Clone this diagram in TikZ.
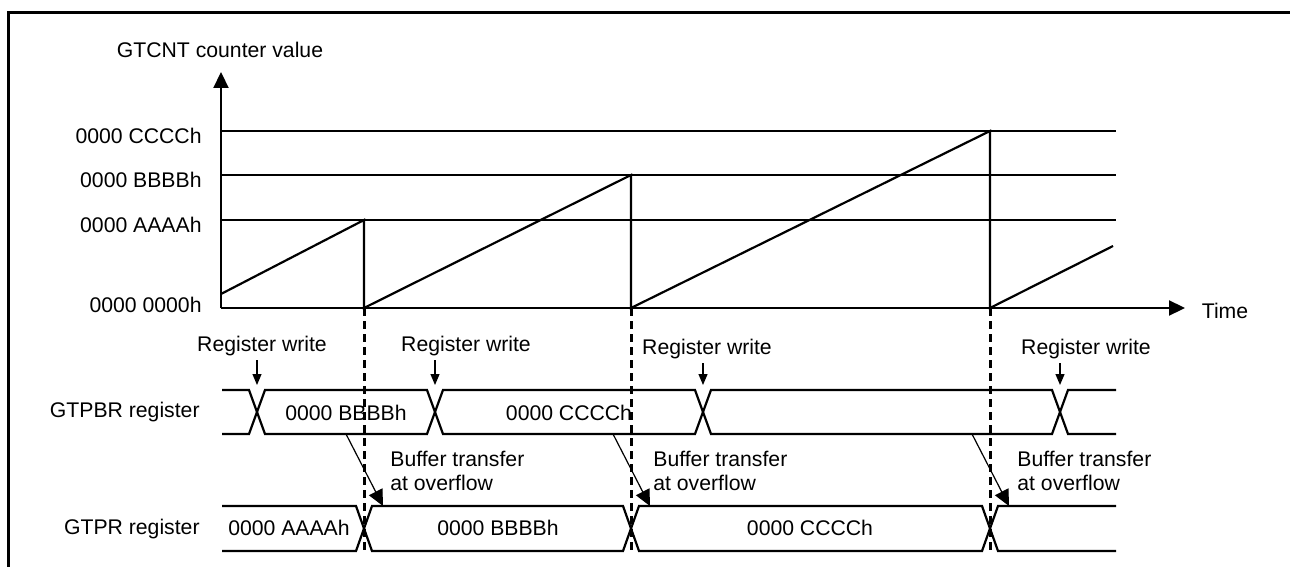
\documentclass[tikz,border=0pt]{standalone}
\usepackage{fontspec}
\setmainfont{Liberation Sans}
\usetikzlibrary{arrows.meta, positioning}

\begin{document}
\begin{tikzpicture}[
    x=0.5pt, y=-0.5pt,
    every node/.style={font=\fontsize{10.6}{12}\selectfont, inner sep=0pt},
    wave/.style={line width=1.1pt, line join=miter},
    axis/.style={line width=1.1pt, -{Triangle[length=8pt, width=7.5pt]}},
    ovl/.style={line width=1.5pt, dash pattern=on 4pt off 2.5pt},
    warr/.style={line width=0.6pt, -{Triangle[length=5.5pt, width=4.5pt]}},
    xfer/.style={line width=0.6pt, -{Triangle[length=8pt, width=7.5pt]}}
]
\useasboundingbox (0,0) rectangle (1290,567);

% Frame — only left and top edges show
\draw[line width=1.5pt] (8.5,567) -- (8.5,12.5) -- (1290,12.5);

% Counter axes
\coordinate (o) at (221,308);
\coordinate (ytop) at (221,72);
\coordinate (xend) at (1185,308);
\draw[axis] (o) -- (ytop);
\draw[axis] (o) -- (xend);
\node (ylbl) at (220,50) {GTCNT counter value};
\node (tlbl) at (1225,311) {Time};

% Compare levels
\foreach \yy/\lev in {131/C, 175/B, 220/A} {
  \draw[wave] (221,\yy) -- (1116,\yy);
  \node[anchor=east] (lv\lev) at (202,\yy+5) {0000 \lev\lev\lev\lev h};
}
\node[anchor=east] (lvZ) at (202,305) {0000 0000h};

% Sawtooth, overflow at each level
\coordinate (ov1) at (364,308);
\coordinate (ov2) at (631,308);
\coordinate (ov3) at (990,308);
\draw[wave] (221,294) -- (364,220) -- (ov1) -- (631,175) -- (ov2)
    -- (990,131) -- (ov3) -- (1113,246);

% Overflow markers down to GTPR
\coordinate (prbot) at (0,551);
\foreach \i in {1,2,3}
  \draw[ovl] (ov\i) -- (ov\i |- prbot);

% GTPBR row
\node[anchor=east] (pbr) at (200,412) {GTPBR register};
\draw[wave] (222,390) -- (249,390) -- (265,434) -- (427,434) -- (443,390) -- (695,390)
    -- (711,434) -- (1052,434) -- (1068,390) -- (1116,390);
\draw[wave] (222,434) -- (249,434) -- (265,390) -- (427,390) -- (443,434) -- (695,434)
    -- (711,390) -- (1052,390) -- (1068,434) -- (1116,434);
\node (pbrB) at (346,413) {0000 BBBBh};
\node (pbrC) at (569,413) {0000 CCCCh};

% GTPR row
\node[anchor=east] (pr) at (200,529) {GTPR register};
\draw[wave] (222,506) -- (356,506) -- (372,551) -- (623,551) -- (639,506) -- (982,506)
    -- (998,551) -- (1116,551);
\draw[wave] (222,551) -- (356,551) -- (372,506) -- (623,506) -- (639,551) -- (982,551)
    -- (998,506) -- (1116,506);
\node (prA) at (289,528) {0000 AAAAh};
\node (prB) at (498,528) {0000 BBBBh};
\node (prC) at (810,528) {0000 CCCCh};

% Register writes
\node (rw1) at (262,346) {Register write};
\node (rw2) at (466,346) {Register write};
\node (rw3) at (707,349) {Register write};
\node (rw4) at (1086,349) {Register write};
\coordinate (wt1) at (257,385);
\coordinate (wt2) at (435,385);
\coordinate (wt3) at (703,385);
\coordinate (wt4) at (1060,385);
\foreach \i in {1,...,4}
  \draw[warr, shorten <=2pt] (rw\i.south -| wt\i) -- (wt\i);

% Buffer transfer at overflow
\coordinate (bs1) at (346,434);  \coordinate (be1) at (383,506);
\coordinate (bs2) at (613,434);  \coordinate (be2) at (650,506);
\coordinate (bs3) at (972,434);  \coordinate (be3) at (1009,506);
\foreach \i in {1,2,3}
  \draw[xfer] (bs\i) -- (be\i);
\node[anchor=west, align=left] (bt1) at (390,471) {Buffer transfer\\at overflow};
\node[anchor=west, align=left] (bt2) at (653,471) {Buffer transfer\\at overflow};
\node[anchor=west, align=left] (bt3) at (1017,471) {Buffer transfer\\at overflow};

\end{tikzpicture}
\end{document}
